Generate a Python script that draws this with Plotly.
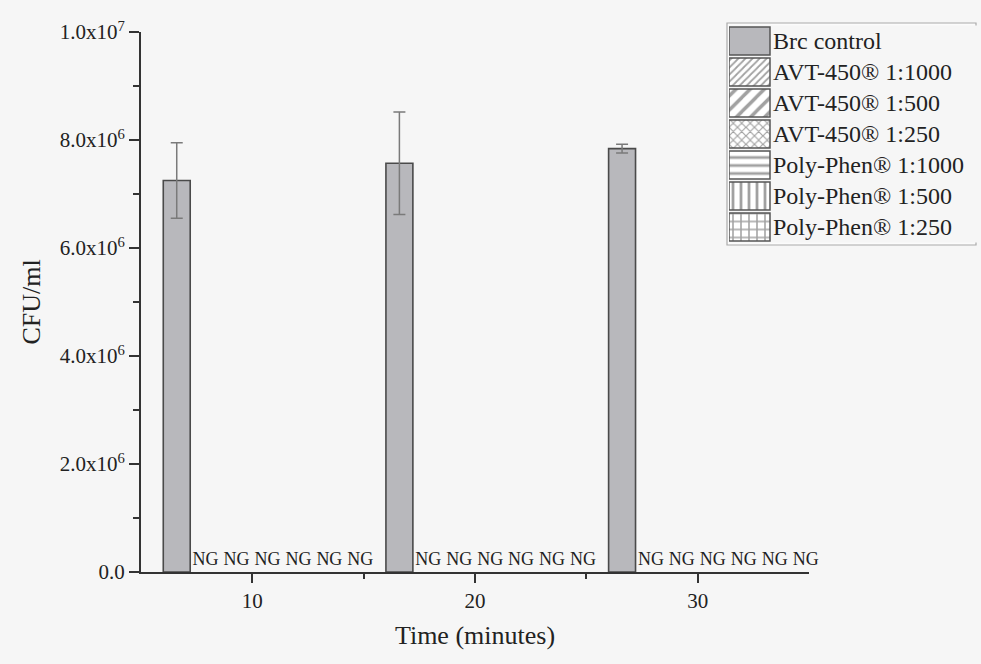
import plotly.graph_objects as go

times = [10, 20, 30]
series_names = ["Brc control", "AVT-450® 1:1000", "AVT-450® 1:500", "AVT-450® 1:250",
                "Poly-Phen® 1:1000", "Poly-Phen® 1:500", "Poly-Phen® 1:250"]
brc_values = [7.25e6, 7.57e6, 7.84e6]
brc_errors = [0.70e6, 0.95e6, 0.08e6]
treated_values = [0, 0, 0]  # no growth (NG)
ng_label = "NG"
y_tick_vals = [0, 2e6, 4e6, 6e6, 8e6, 1e7]
y_tick_text = ["0.0", "2.0x10<sup>6</sup>", "4.0x10<sup>6</sup>", "6.0x10<sup>6</sup>",
               "8.0x10<sup>6</sup>", "1.0x10<sup>7</sup>"]
patterns = ["", "/", "/", "x", "-", "|", "+"]
pattern_sizes = [8, 5, 10, 6, 8, 8, 8]

FONT = "Liberation Serif"
TXT = "#222222"
AX = "#333333"
BG = "#f6f6f6"
BAR = "#b8b8bc"
bar_w = 1.21
slot = 1.39
brc_off = -4.0
ng_first_center = -2.1

fig = go.Figure()
fig.add_trace(go.Bar(
    x=times, y=brc_values, name=series_names[0],
    width=bar_w, offset=brc_off,
    marker=dict(color=BAR, line=dict(color="#4a4a4a", width=1.6)),
    error_y=dict(type="data", array=brc_errors, visible=True,
                 color="#7a7a7a", thickness=1.5, width=6),
    showlegend=False,
))
for k in range(1, 7):
    center = ng_first_center + (k - 1) * slot
    fig.add_trace(go.Bar(
        x=times, y=treated_values, name=series_names[k],
        width=bar_w, offset=center - bar_w / 2,
        text=[ng_label] * len(times), textposition="outside",
        constraintext="none", cliponaxis=False,
        textfont=dict(family=FONT, size=18, color=TXT),
        marker=dict(color="white", line=dict(width=0)),
        showlegend=False,
    ))

# custom legend drawn as patterned swatches on a hidden auxiliary axis pair
fig.add_trace(go.Bar(
    x=[1] * len(series_names), y=series_names, orientation="h",
    xaxis="x2", yaxis="y2", width=0.9,
    text=series_names, textposition="outside", constraintext="none", cliponaxis=False,
    textfont=dict(family=FONT, size=24, color=TXT),
    marker=dict(color=[BAR] + ["white"] * 6,
                line=dict(color="#555555", width=1.5),
                pattern=dict(shape=patterns, fgcolor="#333333", size=pattern_sizes,
                             solidity=0.35)),
    showlegend=False, hoverinfo="skip",
))

PL, PR, PT, PB = 141, 4, 20, 92
pw = 981 - PL - PR
ph = 664 - PT - PB

def fx(px):
    return (px - PL) / pw

def fy(py):
    return (664 - PB - py) / ph

fig.add_shape(type="rect", xref="paper", yref="paper",
              x0=fx(727), x1=fx(976), y0=fy(245), y1=fy(23),
              fillcolor="#fbfbfb", line=dict(color="#aaaaaa", width=1.2), layer="below")

fig.update_layout(
    width=981, height=664,
    paper_bgcolor=BG, plot_bgcolor=BG,
    margin=dict(l=PL, r=PR, t=PT, b=PB),
    barmode="overlay",
    showlegend=False,
    font=dict(family=FONT, color=TXT, size=21),
    xaxis=dict(domain=[0, fx(809)], range=[5, 35], tickvals=times, ticktext=[str(t) for t in times],
               automargin=False,
               showgrid=False, zeroline=False, showline=True, linecolor=AX, linewidth=2,
               ticks="outside", ticklen=9, tickwidth=2, tickcolor=AX,
               minor=dict(tickvals=[15, 25], ticks="outside", ticklen=5, tickwidth=2, tickcolor=AX),
               tickfont=dict(family=FONT, size=21, color=TXT),
               title=dict(text="Time (minutes)", font=dict(family=FONT, size=26, color=TXT), standoff=14)),
    yaxis=dict(domain=[0, fy(32)], range=[0, 1e7], tickvals=y_tick_vals, ticktext=y_tick_text,
               automargin=False,
               showgrid=False, zeroline=False, showline=True, linecolor=AX, linewidth=2,
               ticks="outside", ticklen=10, tickwidth=2, tickcolor=AX,
               minor=dict(tickvals=[1e6, 3e6, 5e6, 7e6, 9e6], ticks="outside", ticklen=6,
                          tickwidth=2, tickcolor=AX),
               tickfont=dict(family=FONT, size=21, color=TXT),
               title=dict(text="CFU/ml", font=dict(family=FONT, size=26, color=TXT), standoff=12)),
    xaxis2=dict(domain=[fx(729), 1.0], range=[0, (977 - 729) / 41.0], visible=False,
                anchor="y2", fixedrange=True),
    yaxis2=dict(domain=[fy(242.5), fy(25.5)], visible=False, anchor="x2",
                categoryorder="array", categoryarray=series_names, autorange="reversed",
                fixedrange=True),
)

fig.write_html("out.html", config={"displayModeBar": False},
               post_script="document.body.style.margin='0';document.body.style.background='%s';" % BG)
